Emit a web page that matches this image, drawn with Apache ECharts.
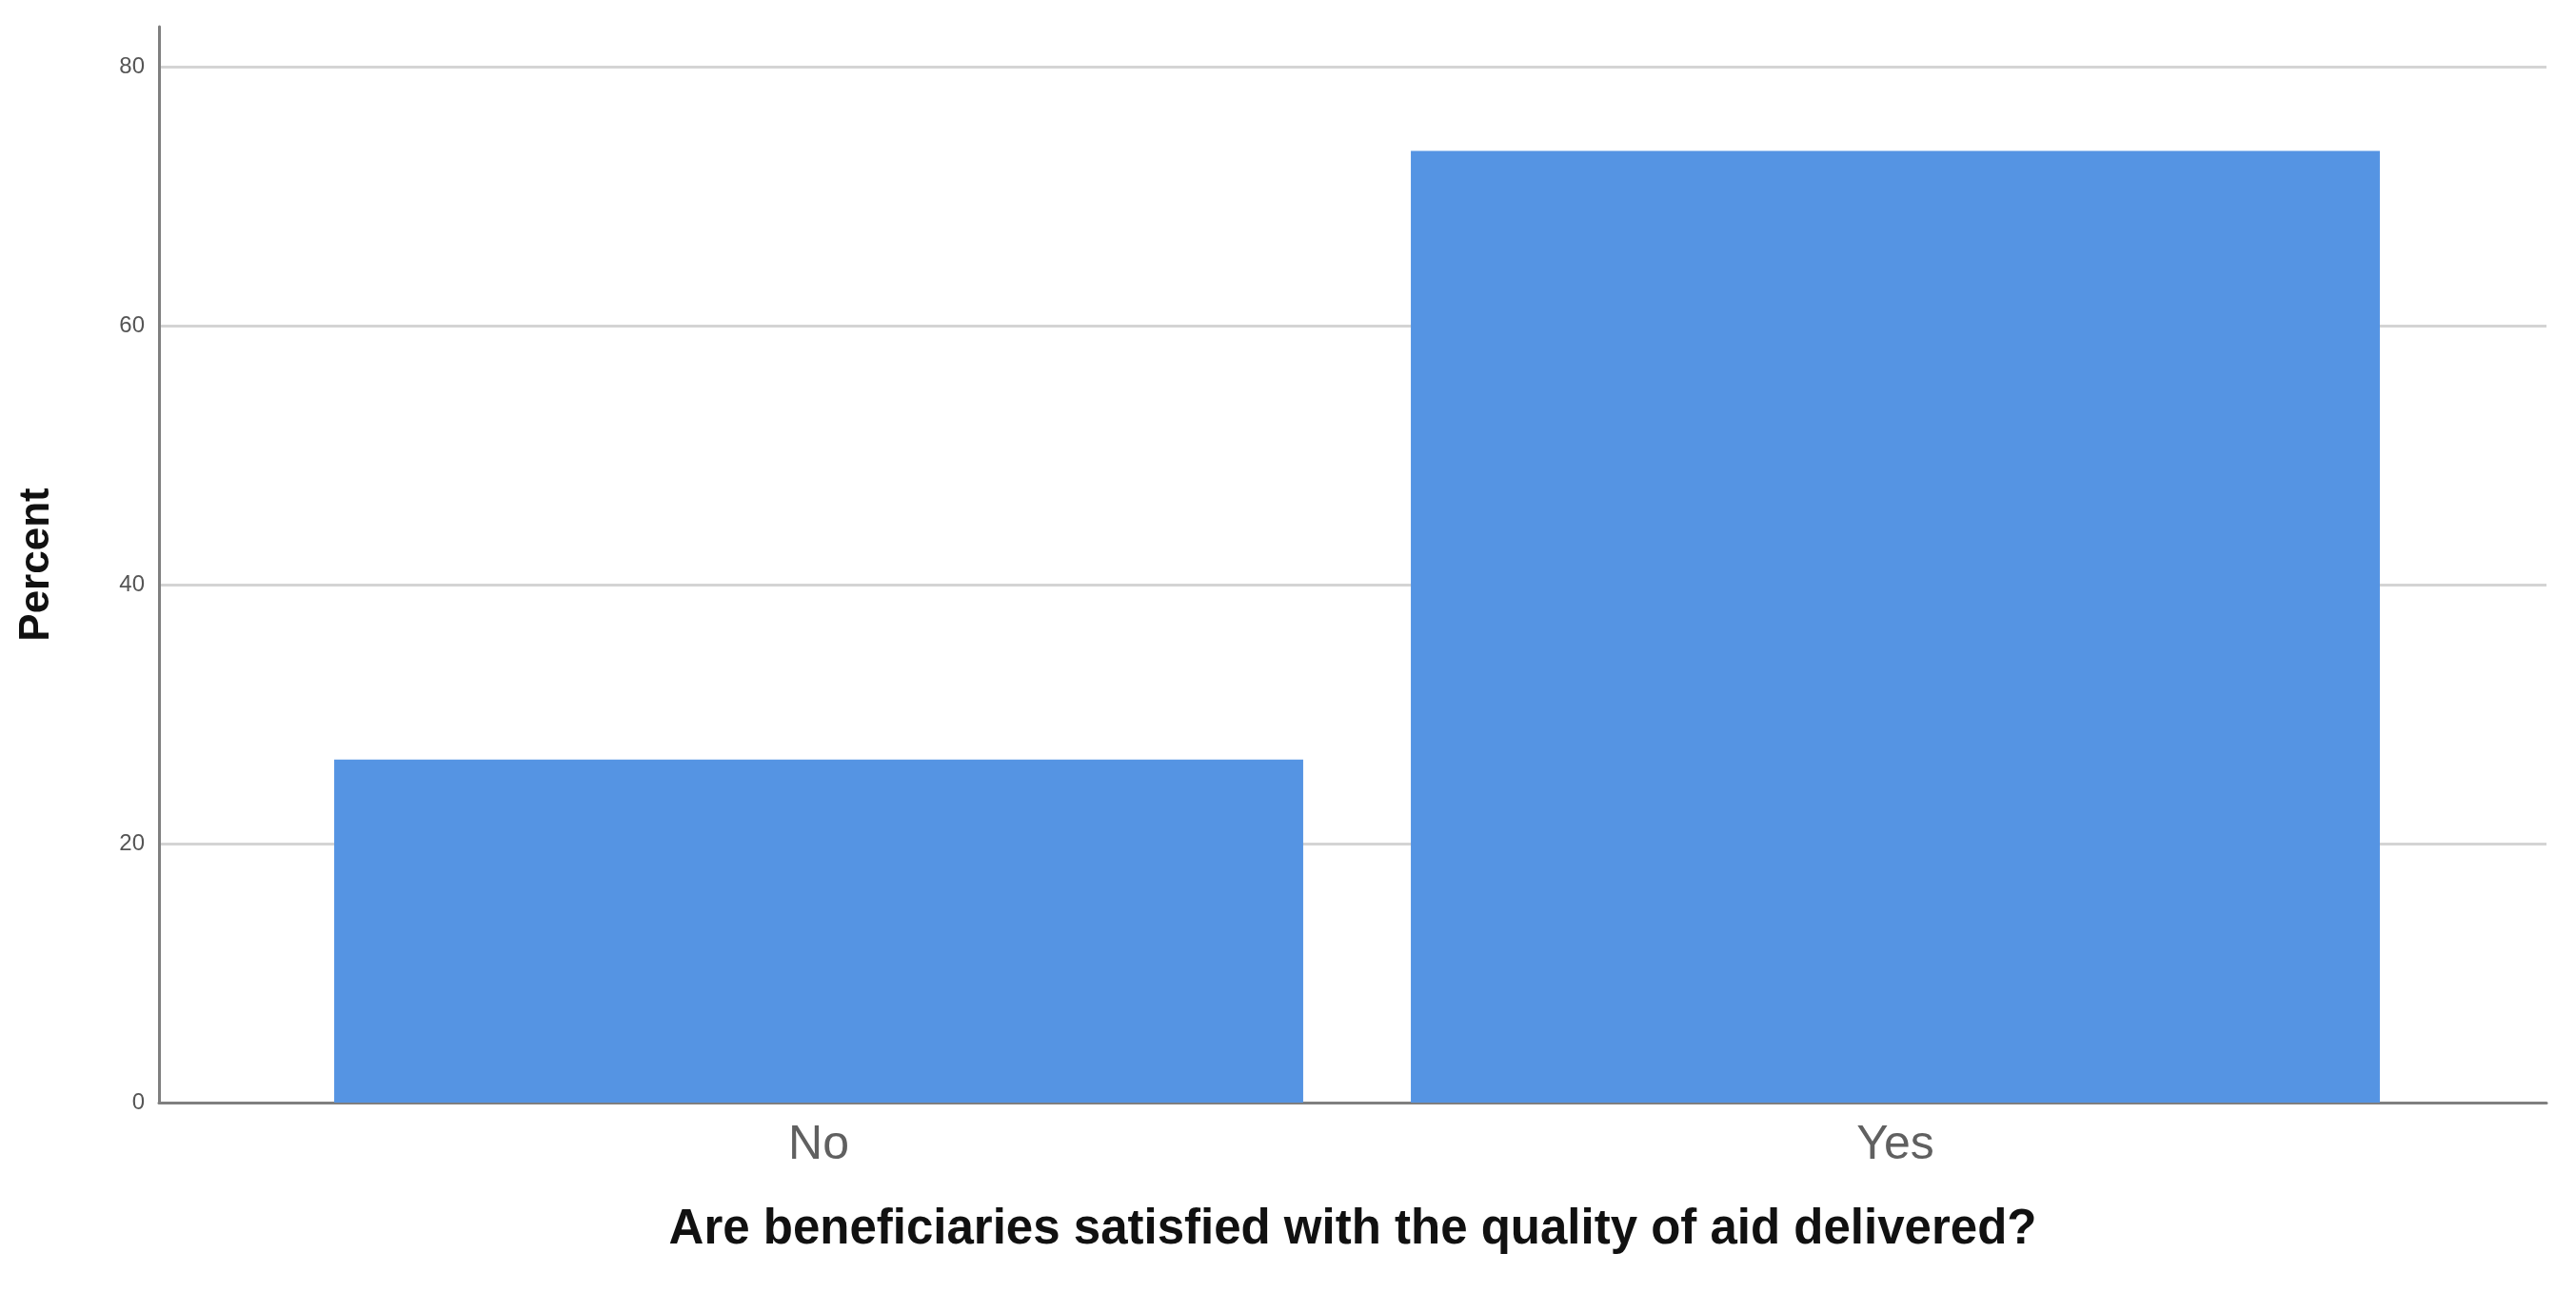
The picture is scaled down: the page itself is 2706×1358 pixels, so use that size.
<!DOCTYPE html>
<html><head><meta charset="utf-8">
<style>html,body{margin:0;padding:0;background:#fff;}#c{width:2706px;height:1358px;}</style>
<script src="https://cdn.jsdelivr.net/npm/echarts@6/dist/echarts.min.js"></script>
</head><body><div id="c"></div>
<script>
const categories = ['No', 'Yes'];
const percentValues = [26.5, 73.5];
const yTicks = [0, 20, 40, 60, 80];
const xTitle = 'Are beneficiaries satisfied with the quality of aid delivered?';
const yTitle = 'Percent';

const yMin = 0, yMax = 83.1, yInterval = 20;
const chart = echarts.init(document.getElementById('c'), null, {renderer: 'canvas'});
const fontFam = 'Liberation Sans, Arial, sans-serif';
chart.setOption({
  animation: false,
  backgroundColor: '#ffffff',
  grid: [
    {left: 167, right: 31, top: 28, bottom: 200},
    {left: 294.5, width: 2262, top: 28, bottom: 200}
  ],
  xAxis: [
    {gridIndex: 0, type: 'category', data: categories,
     axisLine: {show: true, lineStyle: {color: '#7f7f7f', width: 3}},
     axisTick: {show: false}, axisLabel: {show: false}, splitLine: {show: false},
     name: xTitle, nameLocation: 'middle', nameGap: 108,
     nameTextStyle: {fontFamily: fontFam, fontWeight: 'bold', fontSize: 51, color: '#111111'}},
    {gridIndex: 1, type: 'category', data: categories,
     axisLine: {show: false}, axisTick: {show: false},
     axisLabel: {show: true, margin: 20, fontFamily: fontFam, fontSize: 50, color: '#606060'}}
  ],
  yAxis: [
    {gridIndex: 0, type: 'value', min: yMin, max: yMax, interval: yInterval,
     axisLine: {show: true, lineStyle: {color: '#7f7f7f', width: 3}},
     axisTick: {show: false},
     axisLabel: {margin: 15, fontFamily: fontFam, fontSize: 24, color: '#555555',
       formatter: v => yTicks.includes(v) ? String(v) : ''},
     splitLine: {show: true, showMaxLine: false, showMinLine: false, lineStyle: {color: '#d4d4d4', width: 3}},
     name: yTitle, nameLocation: 'middle', nameGap: 106, nameRotate: 90,
     nameTextStyle: {fontFamily: fontFam, fontWeight: 'bold', fontSize: 44, color: '#111111'}},
    {gridIndex: 1, type: 'value', min: yMin, max: yMax, interval: yInterval, show: false,
     splitLine: {show: false}}
  ],
  series: [{
    type: 'bar', xAxisIndex: 1, yAxisIndex: 1, data: percentValues,
    barWidth: '90%',
    itemStyle: {color: '#5594e3'}
  }]
});
</script></body></html>
